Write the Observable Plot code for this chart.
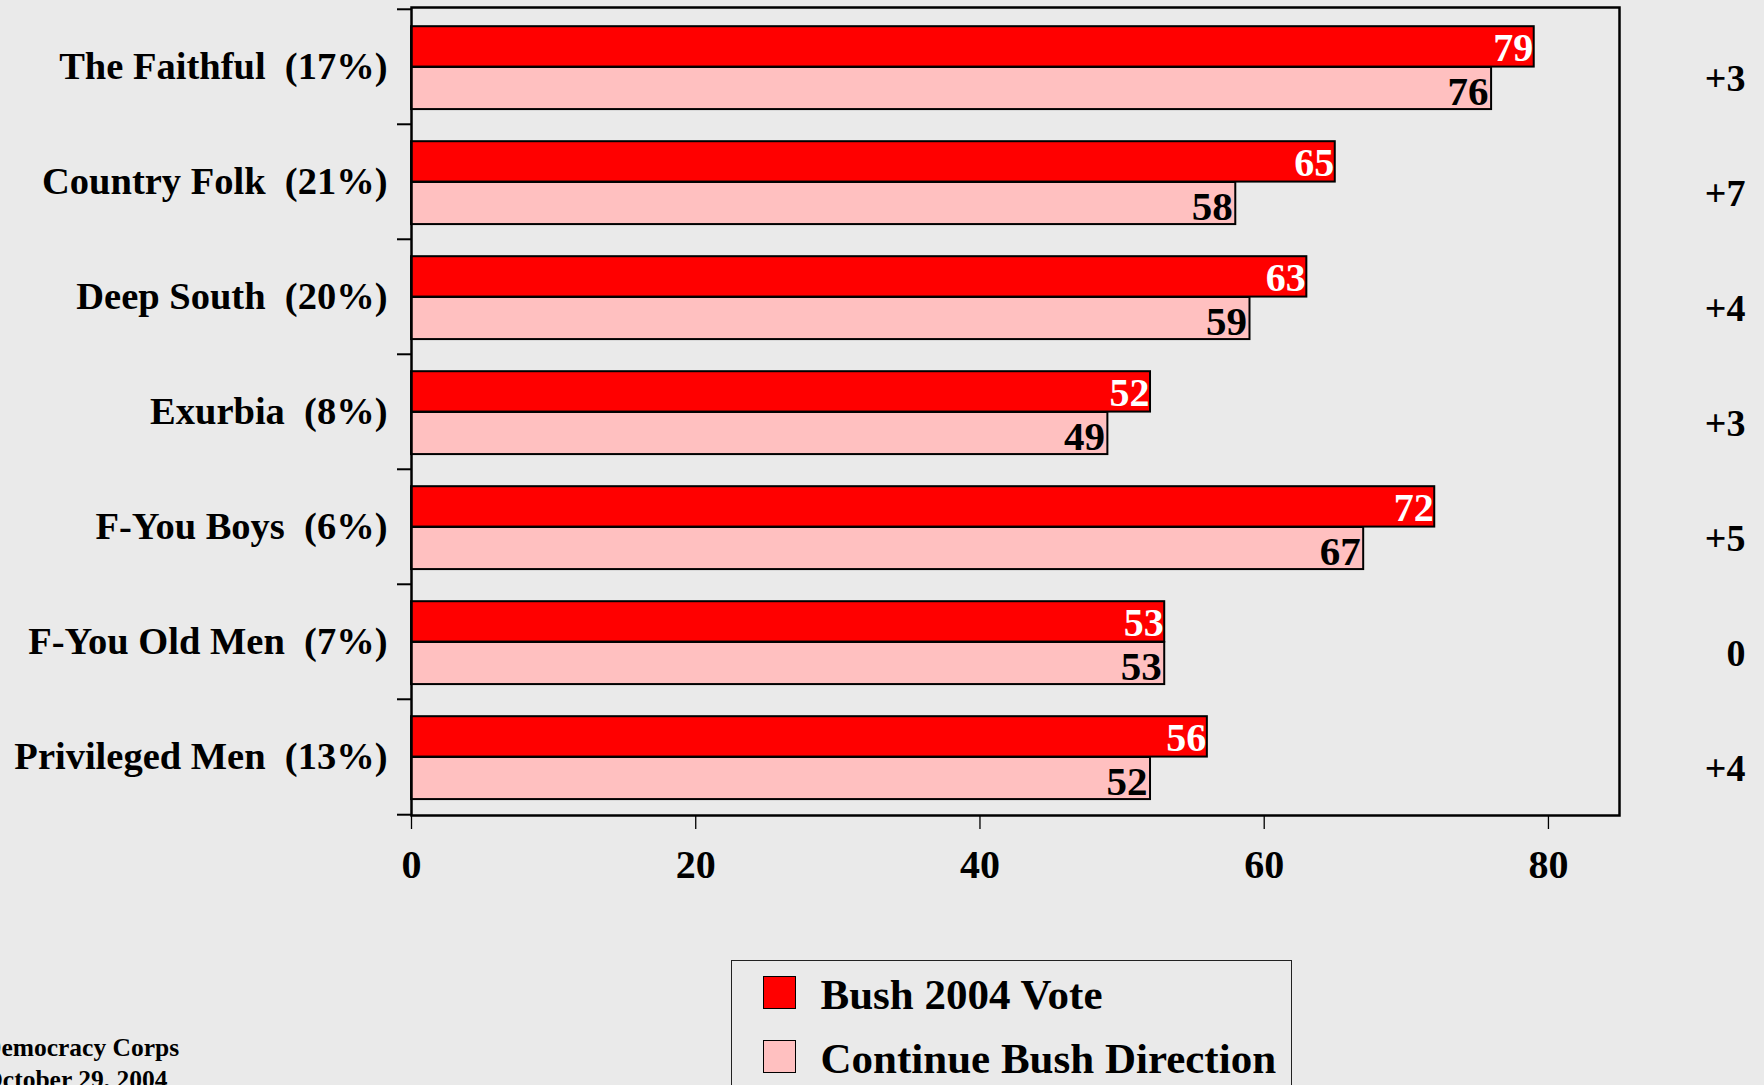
<!DOCTYPE html>
<html>
<head>
<meta charset="utf-8">
<script src="https://cdn.jsdelivr.net/npm/d3@7"></script>
<script src="https://cdn.jsdelivr.net/npm/@observablehq/plot@0.6"></script>
<style>
html, body { margin: 0; padding: 0; background: #EAEAEA; }
#wrap { position: relative; width: 1764px; height: 1085px; overflow: hidden;
  font-family: "Liberation Serif", "Times New Roman", serif; font-weight: bold; color: #000; background: #EAEAEA; }
#chart { position: absolute; left: 0; top: 0; }
#legend { position: absolute; left: 731px; top: 960px; width: 561px; height: 150px;
  border: 1.5px solid #222; box-sizing: border-box; }
.item { position: absolute; left: 30.5px; height: 33px; display: flex; align-items: center;
  font-size: 43px; white-space: nowrap; }
.item span { position: relative; top: 2px; }
.sw { width: 33px; height: 33px; border: 1.5px solid #000; box-sizing: border-box; margin-right: 25px; }
#caption { position: absolute; left: -17px; top: 1032px; font-size: 25.5px; line-height: 32px; white-space: pre; }
</style>
</head>
<body>
<div id="wrap">
  <div id="chart"></div>
  <div id="legend"></div>
  <div id="caption"></div>
</div>
<script>
// ---- data ----
const names = ["The Faithful", "Country Folk", "Deep South", "Exurbia", "F-You Boys", "F-You Old Men", "Privileged Men"];
const shares = [17, 21, 20, 8, 6, 7, 13];
const bushVote = [79, 65, 63, 52, 72, 53, 56];
const continueDirection = [76, 58, 59, 49, 67, 53, 52];
const xTicks = [0, 20, 40, 60, 80];
const seriesNames = ["Bush 2004 Vote", "Continue Bush Direction"];
const seriesColors = ["#FF0000", "#FFC0C0"];
const captionLines = ["Democracy Corps", "October 29, 2004"];

// ---- derived table ----
const labels = names.map((n, i) => `${n}\u00a0\u00a0(${shares[i]}%)`);
const rows = labels.map((c, i) => ({
  category: c,
  bush: bushVote[i],
  cont: continueDirection[i],
  diff: bushVote[i] - continueDirection[i]
}));

const W = 1764, H = 900, mt = 7, mb = 85, ml = 411, mr = 145;
const step = (H - mt - mb) / labels.length;
const redTop = step * 0.149, mid = step * 0.5025, pinkBottom = step * 0.8707;

const chart = Plot.plot({
  width: W, height: H,
  marginTop: mt, marginBottom: mb, marginLeft: ml, marginRight: mr,
  x: { domain: [0, 85] },
  y: { domain: labels, padding: 0 },
  style: { fontFamily: '"Liberation Serif", "Times New Roman", serif', fontWeight: "bold", background: "transparent", overflow: "visible", color: "black" },
  marks: [
    Plot.barX(rows, { x: "bush", y: "category", fill: seriesColors[0], stroke: "black", strokeWidth: 2,
      insetTop: redTop, insetBottom: step - mid }),
    Plot.barX(rows, { x: "cont", y: "category", fill: seriesColors[1], stroke: "black", strokeWidth: 2,
      insetTop: mid, insetBottom: step - pinkBottom }),
    Plot.text(rows, { x: "bush", y: "category", text: d => String(d.bush), fill: "white",
      textAnchor: "end", dx: -1, dy: -19, fontSize: 40 }),
    Plot.text(rows, { x: "cont", y: "category", text: d => String(d.cont), fill: "black",
      textAnchor: "end", dx: -3, dy: 25, fontSize: 41 }),
    Plot.text(rows, { y: "category", text: d => d.diff > 0 ? `+${d.diff}` : `${d.diff}`,
      frameAnchor: "right", dx: 126, dy: 12, textAnchor: "end", fontSize: 38, fill: "black" }),
    Plot.axisY({ tickSize: 0, tickPadding: 24, fontSize: 38.5, label: null }),
    Plot.axisY({ tickSize: 14, tickFormat: () => "", dy: -step / 2, strokeWidth: 2, label: null }),
    Plot.axisY({ ticks: [labels[labels.length - 1]], tickSize: 14, tickFormat: () => "", dy: step / 2, strokeWidth: 2, label: null }),
    Plot.axisX({ ticks: xTicks, tickSize: 14, tickPadding: 20, fontSize: 40, label: null, strokeWidth: 1.3 }),
    Plot.frame({ stroke: "black", strokeWidth: 2.5 })
  ]
});
document.getElementById("chart").appendChild(chart);

// ---- legend ----
const legend = document.getElementById("legend");
const tops = [14.5, 78.5];
seriesNames.forEach((s, i) => {
  const item = document.createElement("div");
  item.className = "item";
  item.style.top = tops[i] + "px";
  const sw = document.createElement("div");
  sw.className = "sw";
  sw.style.background = seriesColors[i];
  const t = document.createElement("span");
  t.textContent = s;
  item.appendChild(sw);
  item.appendChild(t);
  legend.appendChild(item);
});

// ---- caption ----
document.getElementById("caption").textContent = captionLines.join("\n");
</script>
</body>
</html>
